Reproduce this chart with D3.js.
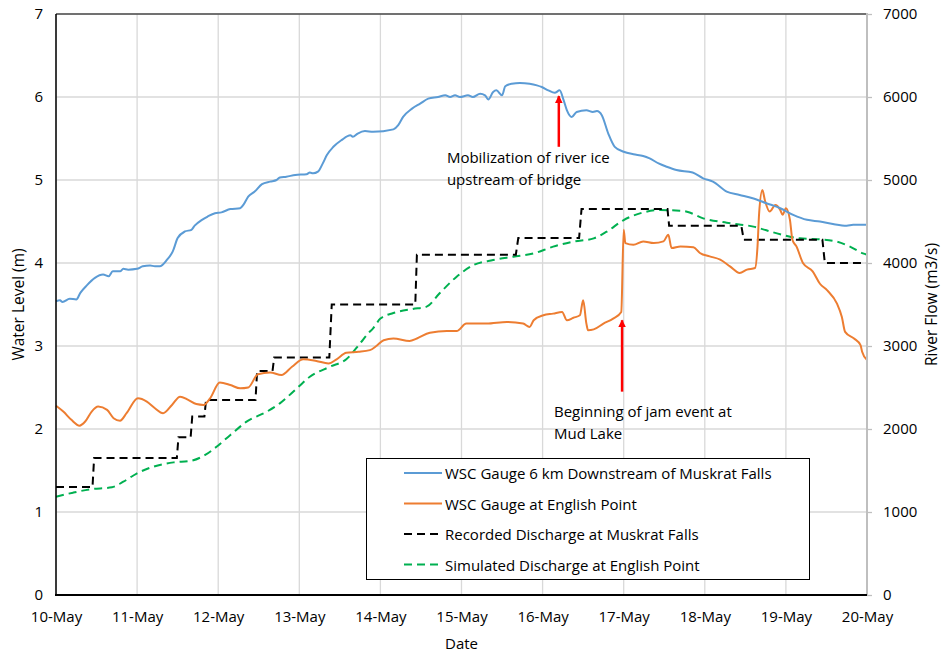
<!DOCTYPE html>
<html>
<head>
<meta charset="utf-8">
<script src="https://cdn.jsdelivr.net/npm/d3@7"></script>
<style>
  html, body { margin: 0; padding: 0; background: #fff; }
  svg { display: block; font-family: "Open Sans", "DejaVu Sans", sans-serif; }
</style>
</head>
<body>
<svg id="chart" width="945" height="654"></svg>
<script>
// ---------------- DATA ----------------
const dateLabels = ["10-May","11-May","12-May","13-May","14-May","15-May","16-May","17-May","18-May","19-May","20-May"];
const levelTicks = [0,1,2,3,4,5,6,7];
const flowTicks = [0,1000,2000,3000,4000,5000,6000,7000];

// days since 10-May 00:00, water level (m) — WSC Gauge 6 km Downstream of Muskrat Falls
const blueDays = [0,0.05,0.08,0.17,0.25,0.30,0.38,0.48,0.58,0.65,0.70,0.79,0.83,0.89,1.00,1.07,1.16,1.22,1.28,1.37,1.44,1.50,1.59,1.67,1.71,1.80,1.87,1.96,2.04,2.15,2.27,2.31,2.37,2.45,2.54,2.64,2.72,2.76,2.84,2.95,3.09,3.13,3.17,3.23,3.29,3.34,3.42,3.52,3.63,3.66,3.72,3.81,3.91,4.16,4.22,4.28,4.39,4.49,4.59,4.71,4.80,4.86,4.92,4.98,5.08,5.14,5.23,5.29,5.33,5.39,5.43,5.50,5.54,5.62,5.72,5.84,5.93,5.99,6.07,6.15,6.21,6.26,6.30,6.36,6.42,6.54,6.62,6.67,6.73,6.81,6.89,7.00,7.12,7.24,7.32,7.43,7.53,7.65,7.85,7.98,8.10,8.27,8.43,8.59,8.76,8.93,9.09,9.26,9.42,9.58,9.75,9.83,10.0];
const blueLevel = [3.54,3.55,3.53,3.57,3.56,3.64,3.73,3.82,3.86,3.84,3.90,3.90,3.93,3.92,3.93,3.96,3.97,3.96,3.96,4.04,4.14,4.30,4.38,4.40,4.45,4.52,4.56,4.60,4.61,4.65,4.66,4.70,4.80,4.86,4.95,4.98,5.00,5.03,5.04,5.06,5.07,5.09,5.08,5.10,5.20,5.30,5.40,5.48,5.54,5.52,5.56,5.59,5.58,5.61,5.66,5.76,5.86,5.92,5.98,6.00,6.02,6.00,6.02,6.00,6.02,6.00,6.04,6.02,5.97,6.06,6.08,6.02,6.13,6.16,6.17,6.16,6.14,6.12,6.08,6.05,6.08,5.96,5.84,5.76,5.82,5.84,5.82,5.83,5.78,5.56,5.40,5.34,5.31,5.29,5.26,5.20,5.16,5.12,5.09,5.02,4.98,4.86,4.82,4.78,4.72,4.66,4.58,4.52,4.50,4.47,4.45,4.46,4.46];

// WSC Gauge at English Point (m)
const orangeDays = [0,0.09,0.19,0.29,0.36,0.44,0.52,0.63,0.71,0.79,0.87,1.01,1.12,1.22,1.32,1.43,1.53,1.63,1.73,1.82,1.90,2.02,2.15,2.27,2.37,2.49,2.64,2.78,2.91,3.05,3.21,3.36,3.46,3.58,3.73,3.87,3.95,4.04,4.16,4.36,4.45,4.61,4.82,4.94,5.06,5.31,5.56,5.76,5.84,5.89,6.01,6.13,6.24,6.30,6.38,6.46,6.50,6.54,6.56,6.63,6.75,6.87,6.97,7.00,7.02,7.12,7.24,7.37,7.49,7.55,7.59,7.70,7.86,7.94,8.06,8.19,8.31,8.43,8.52,8.62,8.65,8.67,8.71,8.74,8.80,8.87,8.93,8.96,9.00,9.05,9.08,9.13,9.21,9.33,9.42,9.51,9.63,9.69,9.73,9.84,9.92,9.94,10.0];
const orangeLevel = [2.28,2.21,2.11,2.04,2.09,2.21,2.27,2.23,2.13,2.10,2.19,2.37,2.33,2.25,2.19,2.29,2.39,2.35,2.30,2.29,2.37,2.56,2.53,2.49,2.50,2.66,2.68,2.65,2.75,2.84,2.82,2.79,2.84,2.92,2.93,2.95,3.00,3.07,3.09,3.06,3.09,3.16,3.18,3.18,3.27,3.27,3.29,3.27,3.23,3.31,3.37,3.39,3.41,3.31,3.34,3.37,3.55,3.27,3.19,3.20,3.27,3.33,3.41,4.40,4.24,4.22,4.26,4.24,4.26,4.34,4.18,4.20,4.19,4.12,4.08,4.04,3.96,3.88,3.92,3.94,4.20,4.60,4.88,4.76,4.62,4.70,4.64,4.58,4.66,4.52,4.28,4.20,4.00,3.90,3.75,3.67,3.51,3.35,3.17,3.09,3.01,2.93,2.83];

// Recorded Discharge at Muskrat Falls (m3/s)
const recordedDays = [0,0.45,0.47,1.49,1.51,1.66,1.68,1.83,1.85,2.46,2.48,2.67,2.69,3.37,3.40,4.43,4.45,5.67,5.70,6.45,6.48,7.54,7.56,8.45,8.48,9.45,9.48,10.0];
const recordedFlow = [1300,1300,1650,1650,1900,1900,2150,2150,2350,2350,2700,2700,2860,2860,3500,3500,4100,4100,4300,4300,4650,4650,4450,4450,4280,4280,4000,4000];

// Simulated Discharge at English Point (m3/s)
const simulatedDays = [0,0.21,0.42,0.69,0.83,1.00,1.20,1.45,1.65,1.84,1.98,2.15,2.35,2.60,2.76,2.97,3.13,3.38,3.58,3.75,3.85,3.91,4.00,4.16,4.40,4.57,4.73,4.94,5.15,5.39,5.64,5.89,6.13,6.38,6.63,6.79,7.00,7.20,7.45,7.69,7.78,7.98,8.27,8.60,8.89,9.17,9.42,9.63,9.79,9.95,10.0];
const simulatedFlow = [1184,1233,1273,1297,1365,1466,1546,1598,1614,1687,1787,1928,2088,2209,2309,2490,2630,2751,2840,3032,3153,3213,3330,3397,3446,3474,3635,3835,3976,4036,4076,4116,4197,4257,4297,4377,4518,4598,4638,4630,4618,4538,4486,4438,4357,4297,4285,4257,4197,4116,4100];

const seriesNames = ["WSC Gauge 6 km Downstream of Muskrat Falls","WSC Gauge at English Point","Recorded Discharge at Muskrat Falls","Simulated Discharge at English Point"];

// annotations: [day, level] anchors
const annoMobil = {text:["Mobilization of river ice","upstream of bridge"], arrowDay:6.20, fromLevel:5.40, toLevel:6.01, textDay:4.82, textLevel:5.277};
const annoJam = {text:["Beginning of jam event at","Mud Lake"], arrowDay:6.98, fromLevel:2.45, toLevel:3.31, textDay:6.14, textLevel:2.22};

// ---------------- LAYOUT ----------------
const svg = d3.select("#chart");
const L = 56, R = 867, T = 14, B = 595;

const x = d3.scaleLinear().domain([0,10]).range([L,R]);
const yL = d3.scaleLinear().domain([0,7]).range([B,T]);
const yR = d3.scaleLinear().domain([0,7000]).range([B,T]);

const colors = ["#5B9BD5","#ED7D31","#000000","#00B050"];
const grid = "#d9d9d9";

// gridlines
svg.append("g").selectAll("line.h").data(levelTicks).join("line")
  .attr("x1",L).attr("x2",R).attr("y1",d=>yL(d)).attr("y2",d=>yL(d))
  .attr("stroke",grid).attr("stroke-width",1.3);
svg.append("g").selectAll("line.v").data(d3.range(dateLabels.length)).join("line")
  .attr("x1",d=>x(d)).attr("x2",d=>x(d)).attr("y1",T).attr("y2",B)
  .attr("stroke",grid).attr("stroke-width",1.3);

// top border
svg.append("line").attr("x1",L).attr("x2",R).attr("y1",T).attr("y2",T).attr("stroke","#000").attr("stroke-width",1.2);

// series
const mk = (days, vals) => days.map((d,i)=>[d, vals[i]]);
const lineL = d3.line().curve(d3.curveMonotoneX).x(d=>x(d[0])).y(d=>yL(d[1]));
const lineR = d3.line().x(d=>x(d[0])).y(d=>yR(d[1]));
const lineRs = d3.line().curve(d3.curveMonotoneX).x(d=>x(d[0])).y(d=>yR(d[1]));

svg.append("path").datum(mk(simulatedDays,simulatedFlow)).attr("d",lineRs)
  .attr("fill","none").attr("stroke",colors[3]).attr("stroke-width",2).attr("stroke-dasharray","8,5");
svg.append("path").datum(mk(recordedDays,recordedFlow)).attr("d",lineR)
  .attr("fill","none").attr("stroke",colors[2]).attr("stroke-width",2).attr("stroke-dasharray","8,5");
svg.append("path").datum(mk(orangeDays,orangeLevel)).attr("d",lineL)
  .attr("fill","none").attr("stroke",colors[1]).attr("stroke-width",2).attr("stroke-linejoin","round");
svg.append("path").datum(mk(blueDays,blueLevel)).attr("d",lineL)
  .attr("fill","none").attr("stroke",colors[0]).attr("stroke-width",2).attr("stroke-linejoin","round");

// axes lines
svg.append("line").attr("x1",L).attr("x2",L).attr("y1",T).attr("y2",B).attr("stroke","#000").attr("stroke-width",1.5);
svg.append("line").attr("x1",R).attr("x2",R).attr("y1",T-1).attr("y2",B+1).attr("stroke","#bfbfbf").attr("stroke-width",2);
svg.append("line").attr("x1",L-1).attr("x2",R).attr("y1",B).attr("y2",B).attr("stroke","#000").attr("stroke-width",2);

// axis labels via d3 axes
const fs = 15;
const axL = svg.append("g").attr("transform",`translate(${L},0)`)
  .call(d3.axisLeft(yL).tickValues(levelTicks).tickSize(0).tickPadding(13).tickFormat(d3.format("d")));
const axR = svg.append("g").attr("transform",`translate(${R},0)`)
  .call(d3.axisRight(yR).tickValues(flowTicks).tickSize(5).tickPadding(11).tickFormat(d3.format("d")));
const axB = svg.append("g").attr("transform",`translate(0,${B})`)
  .call(d3.axisBottom(x).tickValues(d3.range(dateLabels.length)).tickSize(0).tickPadding(16).tickFormat(i=>dateLabels[i]));
[axL,axR,axB].forEach(a=>{
  a.select(".domain").remove();
  a.selectAll("text").attr("font-size",fs).attr("fill","#000").attr("font-family","'Open Sans', sans-serif");
});
axR.selectAll(".tick line").attr("stroke","#bfbfbf").attr("stroke-width",1.3);

// axis titles
svg.append("text").attr("transform",`translate(18,${(T+B)/2}) rotate(-90)`)
  .attr("text-anchor","middle").attr("dominant-baseline","central").attr("font-size",15.5).text("Water Level (m)");
svg.append("text").attr("transform",`translate(931,${(T+B)/2}) rotate(-90)`)
  .attr("text-anchor","middle").attr("dominant-baseline","central").attr("font-size",15.5).text("River Flow (m3/s)");
svg.append("text").attr("x",(L+R)/2).attr("y",643)
  .attr("text-anchor","middle").attr("dominant-baseline","central").attr("font-size",15).text("Date");

// annotations
const defs = svg.append("defs");
defs.append("marker").attr("id","arrowhead").attr("viewBox","0 0 10 10").attr("refX",9).attr("refY",5)
  .attr("markerWidth",3.2).attr("markerHeight",3.6).attr("orient","auto")
  .append("path").attr("d","M0,0L10,5L0,10Z").attr("fill","#ff0000");

[annoMobil, annoJam].forEach(a=>{
  svg.append("line").attr("x1",x(a.arrowDay)).attr("x2",x(a.arrowDay))
    .attr("y1",yL(a.fromLevel)).attr("y2",yL(a.toLevel))
    .attr("stroke","#ff0000").attr("stroke-width",2.5).attr("marker-end","url(#arrowhead)");
  const t = svg.append("text").attr("x",x(a.textDay)).attr("y",yL(a.textLevel))
    .attr("font-size",fs).attr("fill","#000").attr("dominant-baseline","central");
  a.text.forEach((s,i)=>t.append("tspan").attr("x",x(a.textDay)).attr("dy",i===0?0:22).text(s));
});

// legend
const lg = svg.append("g");
lg.append("rect").attr("x",366.5).attr("y",458.5).attr("width",443).attr("height",121)
  .attr("fill","#fff").attr("stroke","#000").attr("stroke-width",1);
const rowY = [473, 503.5, 534, 564.5];
const dashes = [null,null,"8,5","8,5"];
seriesNames.forEach((n,i)=>{
  const l = lg.append("line").attr("x1",404).attr("x2",442).attr("y1",rowY[i]).attr("y2",rowY[i])
    .attr("stroke",colors[i]).attr("stroke-width",2);
  if (dashes[i]) l.attr("stroke-dasharray",dashes[i]);
  lg.append("text").attr("x",445).attr("y",rowY[i]).attr("dominant-baseline","central")
    .attr("font-size",fs).attr("fill","#000").text(n);
});
</script>
</body>
</html>
